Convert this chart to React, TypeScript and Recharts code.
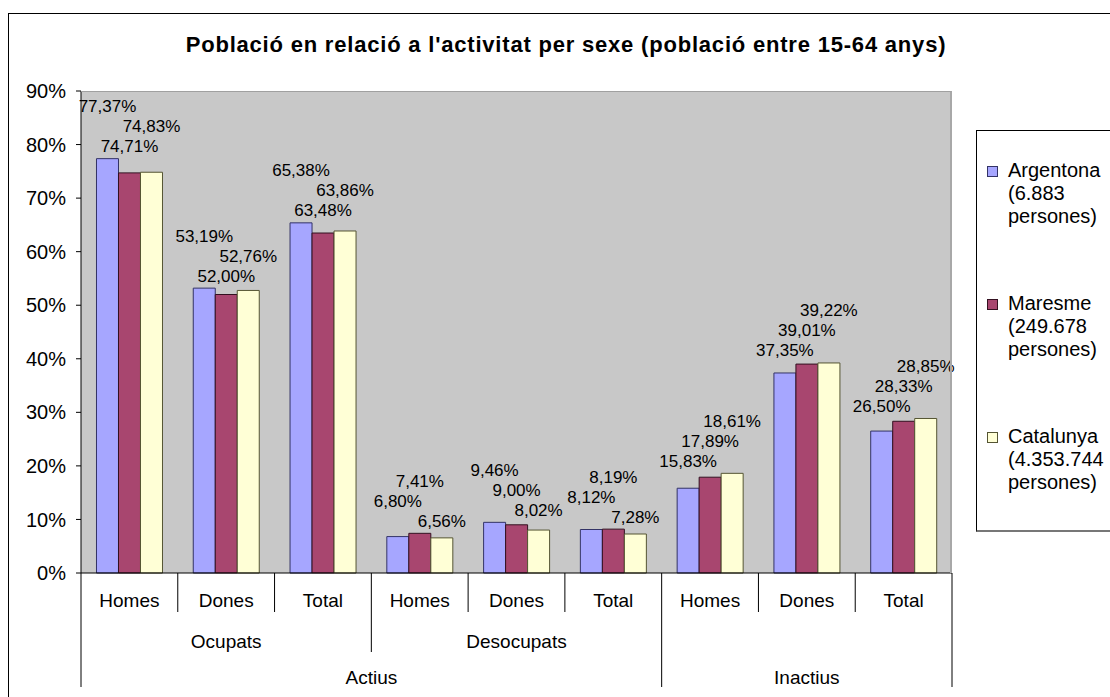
import React from 'react';
import { BarChart, Bar, XAxis, YAxis, CartesianGrid, LabelList } from 'recharts';

const categories = ['Homes', 'Dones', 'Total', 'Homes', 'Dones', 'Total', 'Homes', 'Dones', 'Total'];
const groups = [
  { label: 'Ocupats', start: 0, span: 3 },
  { label: 'Desocupats', start: 3, span: 3 },
  { label: '', start: 6, span: 3 },
];
const topGroups = [
  { label: 'Actius', start: 0, span: 6 },
  { label: 'Inactius', start: 6, span: 3 },
];

const argentona = [77.37, 53.19, 65.38, 6.8, 9.46, 8.12, 15.83, 37.35, 26.5];
const maresme = [74.71, 52.0, 63.48, 7.41, 9.0, 8.19, 17.89, 39.01, 28.33];
const catalunya = [74.83, 52.76, 63.86, 6.56, 8.02, 7.28, 18.61, 39.22, 28.85];

const yTicks = [0, 10, 20, 30, 40, 50, 60, 70, 80, 90];

const series = [
  { key: 'argentona', name: 'Argentona', sub: '(6.883', sub2: 'persones)', color: '#A6A6FF', stroke: '#333366' },
  { key: 'maresme', name: 'Maresme', sub: '(249.678', sub2: 'persones)', color: '#A8466F', stroke: '#331020' },
  { key: 'catalunya', name: 'Catalunya', sub: '(4.353.744', sub2: 'persones)', color: '#FFFFD6', stroke: '#555533' },
];
const seriesValues = [argentona, maresme, catalunya];

const data = categories.map((c, i) => ({
  cat: c,
  argentona: argentona[i],
  maresme: maresme[i],
  catalunya: catalunya[i],
}));

const FONT = '"Liberation Sans", Arial, sans-serif';
const W = 1102;
const H = 689;
const M = { top: 83, right: 158, bottom: 9, left: 0 };
const Y_W = 73;
const X_H = 115;
const PLOT_BOTTOM = H - M.bottom - X_H;
const BW = (W - M.left - M.right - Y_W) / categories.length;

const fmt = (v: number) => v.toFixed(2).replace('.', ',') + '%';

// labels stacked above the tallest bar of each category, smallest value lowest
const makeLabel = (si: number) => (props: any) => {
  const { x, y, width, height, value, index } = props;
  const vals = seriesValues.map((s) => s[index]);
  const max = Math.max(...vals);
  const pxPer = height / value;
  const bottom = y + height;
  const maxTop = bottom - max * pxPer;
  const rank = [...vals].sort((a, b) => a - b).indexOf(vals[si]);
  const cy = maxTop - 12 - rank * 20;
  return (
    <text x={x + width / 2} y={cy} textAnchor="middle" dominantBaseline="central" fontSize={17} fontFamily={FONT} fill="#000">
      {fmt(value)}
    </text>
  );
};

const CategoryTick = (props: any) => {
  const { x, payload } = props;
  const i = payload.index;
  const y0 = PLOT_BOTTOM;
  const left = x - BW / 2;
  const isTop = topGroups.some((g) => g.start === i);
  const isGrp = groups.some((g) => g.start === i);
  const len = isTop ? 114 : isGrp ? 79 : 39;
  const grp = groups.find((g) => g.start === i);
  const top = topGroups.find((g) => g.start === i);
  return (
    <g>
      <line x1={left} y1={y0} x2={left} y2={y0 + len} stroke="#000" />
      {i === categories.length - 1 && (
        <line x1={x + BW / 2} y1={y0} x2={x + BW / 2} y2={y0 + 114} stroke="#000" />
      )}
      <text x={x} y={y0 + 27} textAnchor="middle" dominantBaseline="central" fontSize={19} fontFamily={FONT} fill="#000">
        {payload.value}
      </text>
      {grp && grp.label && (
        <text x={left + (grp.span * BW) / 2} y={y0 + 68} textAnchor="middle" dominantBaseline="central" fontSize={19} fontFamily={FONT} fill="#000">
          {grp.label}
        </text>
      )}
      {top && (
        <text x={left + (top.span * BW) / 2} y={y0 + 104} textAnchor="middle" dominantBaseline="central" fontSize={19} fontFamily={FONT} fill="#000">
          {top.label}
        </text>
      )}
    </g>
  );
};

export default function App() {
  return (
    <div style={{ position: 'absolute', left: 8, top: 8, width: W, height: H, overflow: 'hidden', background: '#fff', fontFamily: FONT }}>
      <div style={{ position: 'absolute', left: 0, top: 5, width: W + 20, height: H + 20, border: '1px solid #000', boxSizing: 'border-box' }} />
      <div style={{ position: 'absolute', left: 0, top: 24, width: W + 14, textAlign: 'center', fontSize: 22, letterSpacing: 0.8, fontWeight: 'bold', color: '#000' }}>
        Població en relació a l'activitat per sexe (població entre 15-64 anys)
      </div>
      <div style={{ position: 'absolute', left: 0, top: 0 }}>
        <BarChart width={W} height={H} data={data} margin={M} barCategoryGap="16%" barGap={0}>
          <CartesianGrid fill="#C8C8C8" horizontal={false} vertical={false} />
          <XAxis
            dataKey="cat"
            height={X_H}
            interval={0}
            tickLine={false}
            axisLine={{ stroke: '#000' }}
            tick={<CategoryTick />}
          />
          <YAxis
            width={Y_W}
            domain={[0, 90]}
            ticks={yTicks}
            tickFormatter={(v: number) => `${v}%`}
            axisLine={{ stroke: '#000' }}
            tickLine={{ stroke: '#000' }}
            tickSize={5}
            tickMargin={10}
            tick={{ fontSize: 20, fontFamily: FONT, fill: '#000' }}
          />
          {series.map((s, si) => (
            <Bar key={s.key} dataKey={s.key} name={s.name} fill={s.color} stroke={s.stroke} strokeWidth={1} isAnimationActive={false}>
              <LabelList dataKey={s.key} content={makeLabel(si)} />
            </Bar>
          ))}
        </BarChart>
      </div>
      <div style={{ position: 'absolute', left: Y_W, top: M.top, width: W - M.right - Y_W, height: PLOT_BOTTOM - M.top, borderTop: '1px solid #A0A0A0', borderRight: '2px solid #A8A8A8', boxSizing: 'border-box', pointerEvents: 'none' }} />
      <div style={{ position: 'absolute', left: 968, top: 122, width: 160, height: 402, border: '1px solid #000', borderBottom: '2px solid #777', boxSizing: 'border-box', background: '#fff' }}>
        {series.map((s, i) => (
          <div key={s.key} style={{ position: 'absolute', left: 10, top: 28 + i * 133, fontSize: 20, lineHeight: '23px', color: '#000' }}>
            <span style={{ position: 'absolute', left: 0, top: 7, width: 9, height: 9, background: s.color, border: `1px solid ${s.stroke}` }} />
            <div style={{ marginLeft: 21 }}>
              {s.name}
              <br />
              {s.sub}
              <br />
              {s.sub2}
            </div>
          </div>
        ))}
      </div>
    </div>
  );
}
